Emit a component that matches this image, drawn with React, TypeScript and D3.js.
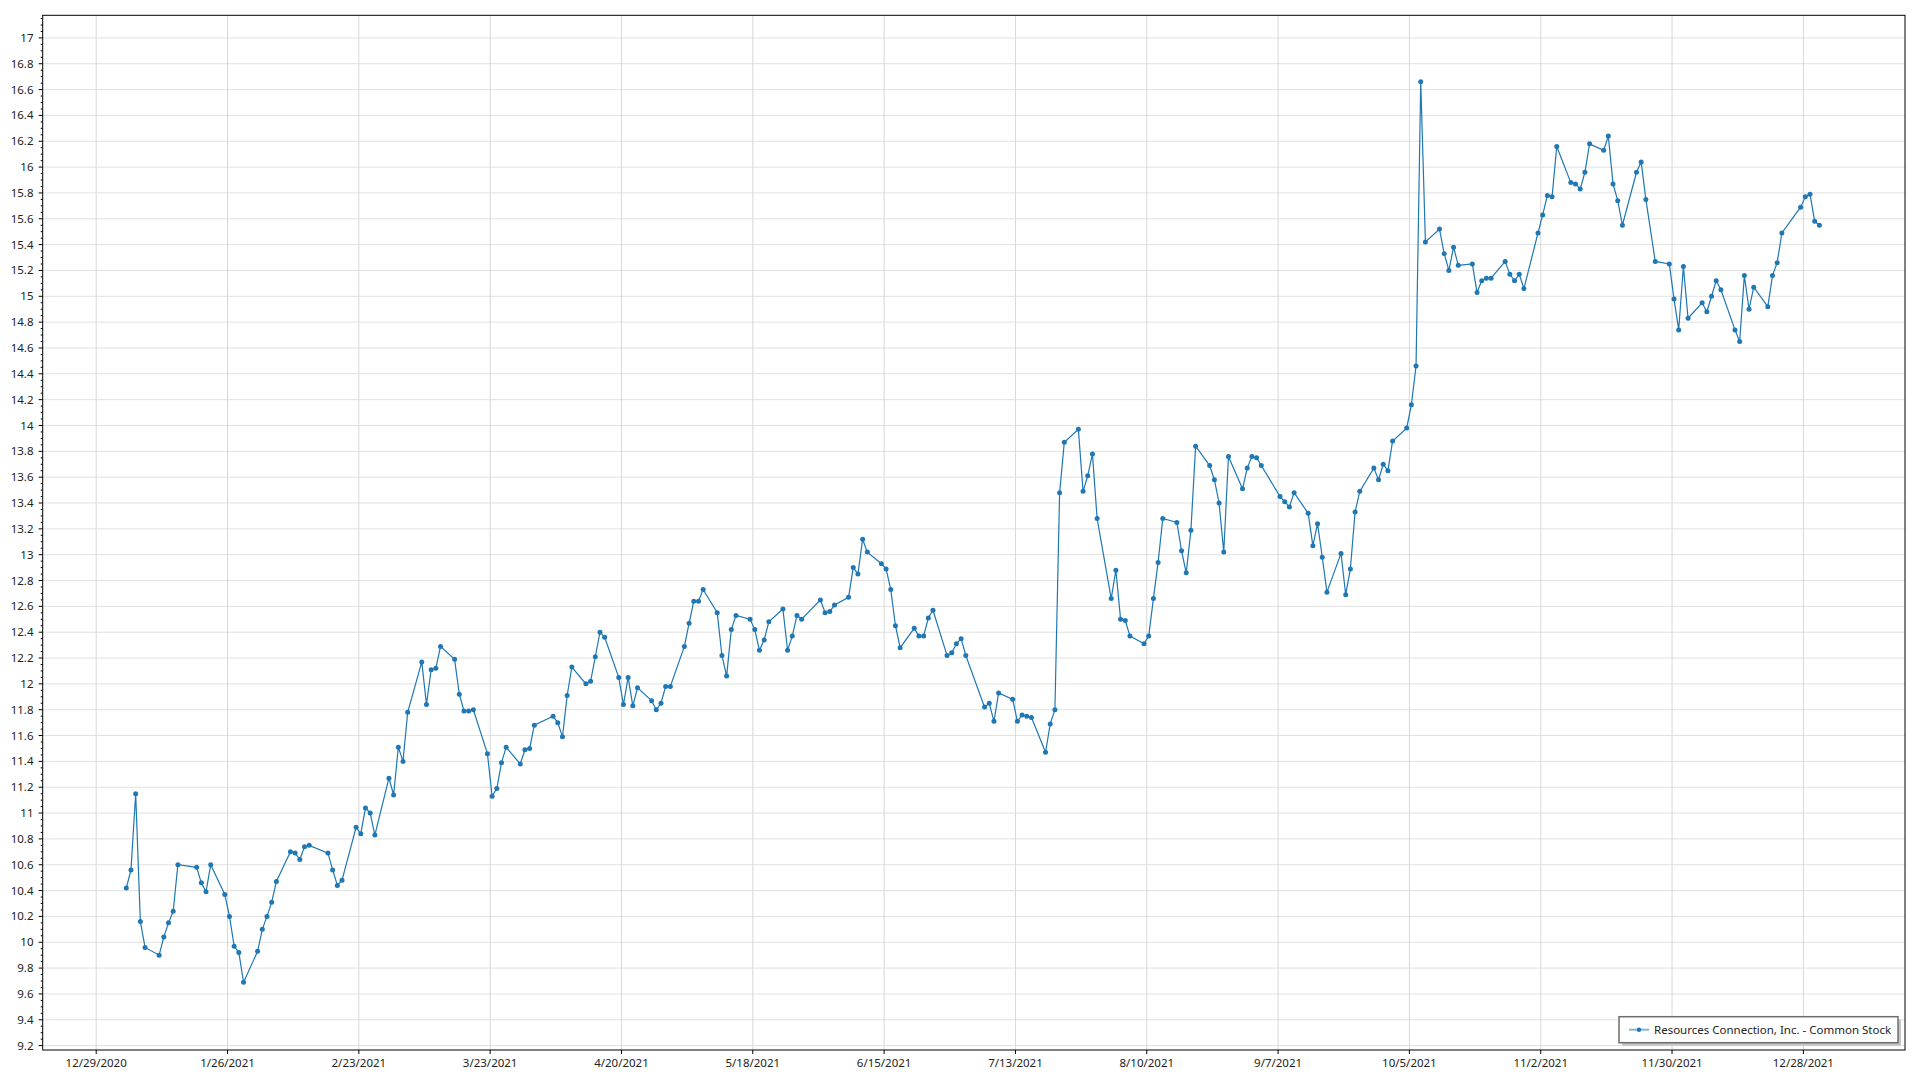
import { useEffect } from 'react'
import * as d3 from 'd3'

const SERIES_NAME = 'Resources Connection, Inc. - Common Stock'

// trading days, 2021
const DATES = [
  // jan
  '2021-01-04', '2021-01-05', '2021-01-06', '2021-01-07', '2021-01-08', '2021-01-11', '2021-01-12', '2021-01-13',
  '2021-01-14', '2021-01-15', '2021-01-19', '2021-01-20', '2021-01-21', '2021-01-22', '2021-01-25', '2021-01-26',
  '2021-01-27', '2021-01-28', '2021-01-29',
  // feb
  '2021-02-01', '2021-02-02', '2021-02-03', '2021-02-04', '2021-02-05', '2021-02-08', '2021-02-09', '2021-02-10',
  '2021-02-11', '2021-02-12', '2021-02-16', '2021-02-17', '2021-02-18', '2021-02-19', '2021-02-22', '2021-02-23',
  '2021-02-24', '2021-02-25', '2021-02-26',
  // mar
  '2021-03-01', '2021-03-02', '2021-03-03', '2021-03-04', '2021-03-05', '2021-03-08', '2021-03-09', '2021-03-10',
  '2021-03-11', '2021-03-12', '2021-03-15', '2021-03-16', '2021-03-17', '2021-03-18', '2021-03-19', '2021-03-22',
  '2021-03-23', '2021-03-24', '2021-03-25', '2021-03-26', '2021-03-29', '2021-03-30', '2021-03-31',
  // apr
  '2021-04-01', '2021-04-05', '2021-04-06', '2021-04-07', '2021-04-08', '2021-04-09', '2021-04-12', '2021-04-13',
  '2021-04-14', '2021-04-15', '2021-04-16', '2021-04-19', '2021-04-20', '2021-04-21', '2021-04-22', '2021-04-23',
  '2021-04-26', '2021-04-27', '2021-04-28', '2021-04-29', '2021-04-30',
  // may
  '2021-05-03', '2021-05-04', '2021-05-05', '2021-05-06', '2021-05-07', '2021-05-10', '2021-05-11', '2021-05-12',
  '2021-05-13', '2021-05-14', '2021-05-17', '2021-05-18', '2021-05-19', '2021-05-20', '2021-05-21', '2021-05-24',
  '2021-05-25', '2021-05-26', '2021-05-27', '2021-05-28',
  // jun
  '2021-06-01', '2021-06-02', '2021-06-03', '2021-06-04', '2021-06-07', '2021-06-08', '2021-06-09', '2021-06-10',
  '2021-06-11', '2021-06-14', '2021-06-15', '2021-06-16', '2021-06-17', '2021-06-18', '2021-06-21', '2021-06-22',
  '2021-06-23', '2021-06-24', '2021-06-25', '2021-06-28', '2021-06-29', '2021-06-30',
  // jul
  '2021-07-01', '2021-07-02', '2021-07-06', '2021-07-07', '2021-07-08', '2021-07-09', '2021-07-12', '2021-07-13',
  '2021-07-14', '2021-07-15', '2021-07-16', '2021-07-19', '2021-07-20', '2021-07-21', '2021-07-22', '2021-07-23',
  '2021-07-26', '2021-07-27', '2021-07-28', '2021-07-29', '2021-07-30',
  // aug
  '2021-08-02', '2021-08-03', '2021-08-04', '2021-08-05', '2021-08-06', '2021-08-09', '2021-08-10', '2021-08-11',
  '2021-08-12', '2021-08-13', '2021-08-16', '2021-08-17', '2021-08-18', '2021-08-19', '2021-08-20', '2021-08-23',
  '2021-08-24', '2021-08-25', '2021-08-26', '2021-08-27', '2021-08-30', '2021-08-31',
  // sep
  '2021-09-01', '2021-09-02', '2021-09-03', '2021-09-07', '2021-09-08', '2021-09-09', '2021-09-10', '2021-09-13',
  '2021-09-14', '2021-09-15', '2021-09-16', '2021-09-17', '2021-09-20', '2021-09-21', '2021-09-22', '2021-09-23',
  '2021-09-24', '2021-09-27', '2021-09-28', '2021-09-29', '2021-09-30',
  // oct
  '2021-10-01', '2021-10-04', '2021-10-05', '2021-10-06', '2021-10-07', '2021-10-08', '2021-10-11', '2021-10-12',
  '2021-10-13', '2021-10-14', '2021-10-15', '2021-10-18', '2021-10-19', '2021-10-20', '2021-10-21', '2021-10-22',
  '2021-10-25', '2021-10-26', '2021-10-27', '2021-10-28', '2021-10-29',
  // nov
  '2021-11-01', '2021-11-02', '2021-11-03', '2021-11-04', '2021-11-05', '2021-11-08', '2021-11-09', '2021-11-10',
  '2021-11-11', '2021-11-12', '2021-11-15', '2021-11-16', '2021-11-17', '2021-11-18', '2021-11-19', '2021-11-22',
  '2021-11-23', '2021-11-24', '2021-11-26', '2021-11-29', '2021-11-30',
  // dec
  '2021-12-01', '2021-12-02', '2021-12-03', '2021-12-06', '2021-12-07', '2021-12-08', '2021-12-09', '2021-12-10',
  '2021-12-13', '2021-12-14', '2021-12-15', '2021-12-16', '2021-12-17', '2021-12-20', '2021-12-21', '2021-12-22',
  '2021-12-23', '2021-12-27', '2021-12-28', '2021-12-29', '2021-12-30', '2021-12-31',
]

const CLOSE = [
  // jan
  10.42, 10.56, 11.15, 10.16, 9.96, 9.9, 10.04, 10.15, 10.24, 10.6, 10.58, 10.46, 10.39, 10.6, 10.37, 10.2,
  9.97, 9.92, 9.69,
  // feb
  9.93, 10.1, 10.2, 10.31, 10.47, 10.7, 10.69, 10.64, 10.74, 10.75, 10.69, 10.56, 10.44, 10.48, 10.89, 10.84,
  11.04, 11.0, 10.83,
  // mar
  11.27, 11.14, 11.51, 11.4, 11.78, 12.17, 11.84, 12.11, 12.12, 12.29, 12.19, 11.92, 11.79, 11.79, 11.8, 11.46,
  11.13, 11.19, 11.39, 11.51, 11.38, 11.49, 11.5,
  // apr
  11.68, 11.75, 11.7, 11.59, 11.91, 12.13, 12.0, 12.02, 12.21, 12.4, 12.36, 12.05, 11.84, 12.05, 11.83, 11.97,
  11.87, 11.8, 11.85, 11.98, 11.98,
  // may
  12.29, 12.47, 12.64, 12.64, 12.73, 12.55, 12.22, 12.06, 12.42, 12.53, 12.5, 12.42, 12.26, 12.34, 12.48, 12.58,
  12.26, 12.37, 12.53, 12.5,
  // jun
  12.65, 12.55, 12.56, 12.61, 12.67, 12.9, 12.85, 13.12, 13.02, 12.93, 12.89, 12.73, 12.45, 12.28, 12.43, 12.37,
  12.37, 12.51, 12.57, 12.22, 12.24, 12.31,
  // jul
  12.35, 12.22, 11.82, 11.85, 11.71, 11.93, 11.88, 11.71, 11.76, 11.75, 11.74, 11.47, 11.69, 11.8, 13.48, 13.87,
  13.97, 13.49, 13.61, 13.78, 13.28,
  // aug
  12.66, 12.88, 12.5, 12.49, 12.37, 12.31, 12.37, 12.66, 12.94, 13.28, 13.25, 13.03, 12.86, 13.19, 13.84, 13.69,
  13.58, 13.4, 13.02, 13.76, 13.51, 13.67,
  // sep
  13.76, 13.75, 13.69, 13.45, 13.41, 13.37, 13.48, 13.32, 13.07, 13.24, 12.98, 12.71, 13.01, 12.69, 12.89, 13.33,
  13.49, 13.67, 13.58, 13.7, 13.65,
  // oct
  13.88, 13.98, 14.16, 14.46, 16.66, 15.42, 15.52, 15.33, 15.2, 15.38, 15.24, 15.25, 15.03, 15.12, 15.14, 15.14,
  15.27, 15.17, 15.12, 15.17, 15.06,
  // nov
  15.49, 15.63, 15.78, 15.77, 16.16, 15.88, 15.87, 15.83, 15.96, 16.18, 16.13, 16.24, 15.87, 15.74, 15.55, 15.96,
  16.04, 15.75, 15.27, 15.25, 14.98,
  // dec
  14.74, 15.23, 14.83, 14.95, 14.88, 15.0, 15.12, 15.05, 14.74, 14.65, 15.16, 14.9, 15.07, 14.92, 15.16, 15.26,
  15.49, 15.69, 15.77, 15.79, 15.58, 15.55,
]

const X_TICKS = [
  '2020-12-29', '2021-01-26', '2021-02-23', '2021-03-23', '2021-04-20', '2021-05-18', '2021-06-15',
  '2021-07-13', '2021-08-10', '2021-09-07', '2021-10-05', '2021-11-02', '2021-11-30', '2021-12-28',
]
const Y_TICKS = [
  9.2, 9.4, 9.6, 9.8, 10, 10.2, 10.4, 10.6, 10.8, 11, 11.2, 11.4, 11.6, 11.8, 12, 12.2, 12.4, 12.6, 12.8, 13,
  13.2, 13.4, 13.6, 13.8, 14, 14.2, 14.4, 14.6, 14.8, 15, 15.2, 15.4, 15.6, 15.8, 16, 16.2, 16.4, 16.6, 16.8, 17,
]

// visible ranges of the axes
const X_RANGE = ['2020-12-17T14:14', '2022-01-18T16:05']
const Y_RANGE = [9.166, 17.175]
const QUOTE_HOUR = 10

const W = 1920
const H = 1080
const PLOT = { left: 42.7, top: 15.3, right: 1905, bottom: 1050 }
const BLUE = '#1f77b4'
const FONT = '"Segoe UI", "Noto Sans", "Open Sans", sans-serif'
const FONT_SIZE = 11.5

const parseDay = d3.utcParse('%Y-%m-%d')
const parseStamp = d3.utcParse('%Y-%m-%dT%H:%M')
const fmtTick = (d: Date) => `${d.getUTCMonth() + 1}/${d.getUTCDate()}/${d.getUTCFullYear()}`

export default function App() {
  useEffect(() => {
    document.body.style.margin = '0'
    document.body.style.overflow = 'hidden'
  }, [])

  const x = d3.scaleUtc()
    .domain(X_RANGE.map((s) => parseStamp(s)!))
    .range([PLOT.left, PLOT.right])
  const y = d3.scaleLinear().domain(Y_RANGE).range([PLOT.bottom, PLOT.top])

  const points = DATES.map((s, i) => ({
    date: d3.utcHour.offset(parseDay(s)!, QUOTE_HOUR),
    value: CLOSE[i],
  }))

  const line = d3.line<{ date: Date; value: number }>()
    .x((d) => x(d.date))
    .y((d) => y(d.value))

  const xTicks = X_TICKS.map((s) => parseDay(s)!)
  const minorY = y.ticks(160).filter((t) => !Y_TICKS.some((m) => Math.abs(m - t) < 1e-6))
  const fmtY = d3.format('~g')

  const legend = { x: 1619, y: 1016.7, w: 279, h: 26 }

  return (
    <svg width={W} height={H} style={{ position: 'absolute', left: 0, top: 0, background: '#fff' }} fontFamily={FONT}>
      <rect width={W} height={H} fill="#fff" />
      {/* grid */}
      <g>
        {Y_TICKS.map((t) => (
          <line key={t} x1={PLOT.left} x2={PLOT.right} y1={y(t)} y2={y(t)} stroke="#e1e1e1" strokeWidth={1} />
        ))}
        {xTicks.map((t) => (
          <line key={+t} x1={x(t)} x2={x(t)} y1={PLOT.top} y2={PLOT.bottom} stroke="#d8d8d8" strokeWidth={1} />
        ))}
      </g>

      {/* series */}
      <path d={line(points) ?? ''} fill="none" stroke={BLUE} strokeWidth={1.2} />
      {points.map((p, i) => (
        <circle key={i} cx={x(p.date)} cy={y(p.value)} r={2.5} fill={BLUE} />
      ))}

      {/* frame */}
      <rect
        x={PLOT.left}
        y={PLOT.top}
        width={PLOT.right - PLOT.left}
        height={PLOT.bottom - PLOT.top}
        fill="none"
        stroke="#000"
        strokeWidth={1}
      />

      {/* y axis */}
      <g fill="#222" fontSize={FONT_SIZE} textAnchor="end">
        {Y_TICKS.map((t) => (
          <g key={t}>
            <line x1={PLOT.left - 4} x2={PLOT.left} y1={y(t)} y2={y(t)} stroke="#000" />
            <text x={33.5} y={y(t)} dy="0.35em">{fmtY(t)}</text>
          </g>
        ))}
        {minorY.map((t) => (
          <line key={t} x1={PLOT.left - 2} x2={PLOT.left} y1={y(t)} y2={y(t)} stroke="#000" />
        ))}
      </g>

      {/* x axis */}
      <g fill="#222" fontSize={FONT_SIZE} textAnchor="middle">
        {xTicks.map((t) => (
          <g key={+t}>
            <line x1={x(t)} x2={x(t)} y1={PLOT.bottom} y2={PLOT.bottom + 4} stroke="#000" />
            <text x={x(t)} y={1067}>{fmtTick(t)}</text>
          </g>
        ))}
      </g>

      {/* legend */}
      <g>
        <rect x={legend.x + 3} y={legend.y + 3} width={legend.w} height={legend.h} fill="#c4c4c4" />
        <rect x={legend.x} y={legend.y} width={legend.w} height={legend.h} fill="#fff" stroke="#6e6e6e" strokeWidth={1.5} />
        <line
          x1={legend.x + 10}
          x2={legend.x + 30}
          y1={legend.y + legend.h / 2}
          y2={legend.y + legend.h / 2}
          stroke={BLUE}
          strokeOpacity={0.55}
          strokeWidth={2}
        />
        <circle cx={legend.x + 20} cy={legend.y + legend.h / 2} r={2.2} fill={BLUE} />
        <text x={legend.x + 35} y={legend.y + legend.h / 2} dy="0.35em" fontSize={FONT_SIZE} fill="#222">
          {SERIES_NAME}
        </text>
      </g>
    </svg>
  )
}
